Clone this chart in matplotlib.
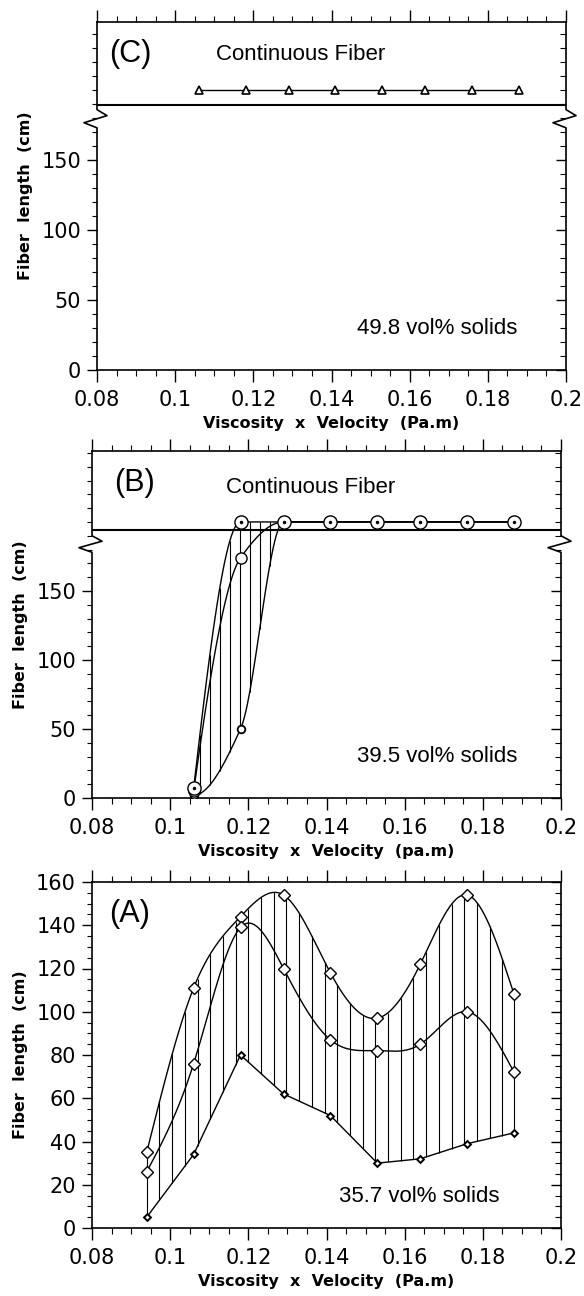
import numpy as np
import matplotlib
matplotlib.use("Agg")
import matplotlib.pyplot as plt
import matplotlib.transforms as mtransforms
from matplotlib.ticker import MultipleLocator

# ---------------------------
# DATA
# ---------------------------
X_TICKS = [0.08, 0.10, 0.12, 0.14, 0.16, 0.18, 0.20]
X_TICK_LABELS = ["0.08", "0.1", "0.12", "0.14", "0.16", "0.18", "0.2"]

# 200 cm is used as the "Continuous Fiber" level above the axis break
# (C) 49.8 vol% solids
C_X = [0.106, 0.118, 0.129, 0.141, 0.153, 0.164, 0.176, 0.188]
C_Y = [200, 200, 200, 200, 200, 200, 200, 200]

# (B) 39.5 vol% solids : max / mean / min fiber length
B_X = [0.106, 0.118, 0.129, 0.141, 0.153, 0.164, 0.176, 0.188]
B_MAX = [7, 200, 200, 200, 200, 200, 200, 200]
B_MID = [5, 174, 200, 200, 200, 200, 200, 200]
B_MIN = [2, 50, 200, 200, 200, 200, 200, 200]

# (A) 35.7 vol% solids : max / mean / min fiber length
A_X = [0.094, 0.106, 0.118, 0.129, 0.141, 0.153, 0.164, 0.176, 0.188]
A_MAX = [35, 111, 144, 154, 118, 97, 122, 154, 108]
A_MID = [26, 76, 139, 120, 87, 82, 85, 100, 72]
A_MIN = [5, 34, 80, 62, 52, 30, 32, 39, 44]

FIG_W, FIG_H = 584, 1296
TICK_FONT = "DejaVu Sans"
TEXT_FONT = "Liberation Sans"


def natural_spline(x, y, xs):
    x = np.asarray(x, float)
    y = np.asarray(y, float)
    n = len(x)
    h = np.diff(x)
    A = np.zeros((n, n))
    r = np.zeros(n)
    A[0, 0] = A[-1, -1] = 1
    for i in range(1, n - 1):
        A[i, i - 1] = h[i - 1]
        A[i, i] = 2 * (h[i - 1] + h[i])
        A[i, i + 1] = h[i]
        r[i] = 6 * ((y[i + 1] - y[i]) / h[i] - (y[i] - y[i - 1]) / h[i - 1])
    M = np.linalg.solve(A, r)
    k = np.clip(np.searchsorted(x, xs) - 1, 0, n - 2)
    t0 = x[k + 1] - xs
    t1 = xs - x[k]
    hk = h[k]
    return (M[k] * t0 ** 3 / (6 * hk) + M[k + 1] * t1 ** 3 / (6 * hk)
            + (y[k] / hk - M[k] * hk / 6) * t0
            + (y[k + 1] / hk - M[k + 1] * hk / 6) * t1)


def pchip(x, y, xs):
    x = np.asarray(x, float)
    y = np.asarray(y, float)
    n = len(x)
    h = np.diff(x)
    d = np.diff(y) / h
    m = np.zeros(n)
    for i in range(1, n - 1):
        if d[i - 1] * d[i] > 0:
            w1 = 2 * h[i] + h[i - 1]
            w2 = h[i] + 2 * h[i - 1]
            m[i] = (w1 + w2) / (w1 / d[i - 1] + w2 / d[i])
    m0 = ((2 * h[0] + h[1]) * d[0] - h[0] * d[1]) / (h[0] + h[1])
    if np.sign(m0) != np.sign(d[0]):
        m0 = 0
    elif np.sign(d[0]) != np.sign(d[1]) and abs(m0) > abs(3 * d[0]):
        m0 = 3 * d[0]
    m[0] = m0
    m[-1] = 0 if d[-1] == 0 else d[-1]
    k = np.clip(np.searchsorted(x, xs) - 1, 0, n - 2)
    t = (xs - x[k]) / h[k]
    h00 = 2 * t ** 3 - 3 * t ** 2 + 1
    h10 = t ** 3 - 2 * t ** 2 + t
    h01 = -2 * t ** 3 + 3 * t ** 2
    h11 = t ** 3 - t ** 2
    return h00 * y[k] + h10 * h[k] * m[k] + h01 * y[k + 1] + h11 * h[k] * m[k + 1]


def setup(ax, ymax, yticks, yminor):
    ax.set_xlim(0.08, 0.2)
    ax.set_ylim(0, ymax)
    ax.set_xticks(X_TICKS)
    ax.set_xticklabels(X_TICK_LABELS, fontfamily=TICK_FONT)
    ax.xaxis.set_minor_locator(MultipleLocator(0.005))
    ax.set_yticks(yticks)
    ax.set_yticklabels([str(v) for v in yticks], fontfamily=TICK_FONT)
    ax.yaxis.set_minor_locator(MultipleLocator(yminor))
    ax.tick_params(axis="x", which="both", direction="out", top=True,
                   bottom=True, labelsize=15, pad=6)
    ax.tick_params(axis="x", which="major", length=8.5, width=1)
    ax.tick_params(axis="x", which="minor", length=4, width=0.8)
    ax.tick_params(axis="y", which="both", direction="out", left=True,
                   right=False, labelsize=15, pad=4)
    ax.tick_params(axis="y", which="major", length=7.5, width=1)
    ax.tick_params(axis="y", which="minor", length=3.5, width=0.8)
    sec = ax.secondary_yaxis("right")
    sec.set_yticks(yticks)
    sec.yaxis.set_minor_locator(MultipleLocator(yminor))
    sec.tick_params(which="both", direction="in", labelright=False)
    sec.tick_params(which="major", length=7, width=1)
    sec.tick_params(which="minor", length=4, width=0.8)
    sec.spines["right"].set_visible(False)
    for s in ["top", "bottom", "left", "right"]:
        ax.spines[s].set_linewidth(1.2)
    ax.set_ylabel("Fiber  length  (cm)", fontsize=11.5, fontweight="bold",
                  labelpad=6)


def break_spines(ax, y_bot, y_top, ymax):
    # left/right spines with a zigzag axis break
    ax.spines["left"].set_visible(False)
    ax.spines["right"].set_visible(False)
    tr = mtransforms.blended_transform_factory(ax.transAxes, ax.transData)
    w_px = ax.get_position().width * FIG_W
    dx1 = 10 / w_px
    dx2 = 13 / w_px
    span = y_top - y_bot
    for x0 in (0, 1):
        xs = [x0, x0, x0 - dx2, x0 + dx1, x0, x0]
        ys = [0, y_bot, y_bot + 0.28 * span, y_bot + 0.67 * span, y_top, ymax]
        ax.plot(xs, ys, transform=tr, color="black", lw=1.2, clip_on=False,
                zorder=5)


fig = plt.figure(figsize=(FIG_W / 100, FIG_H / 100), dpi=100)

# ---------------------------
# (C) panel
# ---------------------------
axC = fig.add_axes([97 / FIG_W, 1 - 370 / FIG_H, 469 / FIG_W, 348 / FIG_H])
setup(axC, 248.6, [0, 50, 100, 150], 10)
break_spines(axC, 173, 186, 248.6)
axC.axhline(189, color="black", lw=1.5)
axC.plot(C_X, C_Y, color="black", lw=1, marker="^", ms=6, mfc="white",
         mec="black", mew=1.2)
axC.text(0.0886, 226, "(C)", fontsize=22, ha="center", va="center",
         family=TEXT_FONT)
axC.text(0.1105, 225.7, "Continuous Fiber", fontsize=16, va="center",
         family=TEXT_FONT)
axC.text(0.1465, 30, "49.8 vol% solids", fontsize=16, va="center",
         family=TEXT_FONT)
axC.set_xlabel("Viscosity  x  Velocity  (Pa.m)", fontsize=11.5,
               fontweight="bold", labelpad=4)

# ---------------------------
# (B) panel
# ---------------------------
axB = fig.add_axes([92 / FIG_W, 1 - 798 / FIG_H, 469 / FIG_W, 347 / FIG_H])
setup(axB, 251.4, [0, 50, 100, 150], 10)
break_spines(axB, 178, 190, 251.4)
axB.axhline(194, color="black", lw=1.5)

xs_b = np.linspace(B_X[0], B_X[-1], 400)
up_b = pchip(B_X, B_MAX, xs_b)
mid_b = pchip(B_X, B_MID, xs_b)
low_b = pchip(B_X, B_MIN, xs_b)
hx_b = np.arange(0.1076, 0.1285, 0.00255)
axB.vlines(hx_b, pchip(B_X, B_MIN, hx_b), pchip(B_X, B_MAX, hx_b),
           color="black", lw=0.8, zorder=1)
axB.plot(xs_b, up_b, color="black", lw=1, zorder=2)
axB.plot(xs_b, mid_b, color="black", lw=1, zorder=2)
axB.plot(xs_b, low_b, color="black", lw=1, zorder=2)
axB.plot(B_X, B_MIN, ls="none", marker="o", ms=5.5, mfc="white",
         mec="black", mew=1.3, zorder=3)
axB.plot(B_X, B_MID, ls="none", marker="o", ms=8, mfc="white",
         mec="black", mew=1, zorder=4)
axB.plot(B_X, B_MAX, ls="none", marker="o", ms=9.5, mfc="white",
         mec="black", mew=1, zorder=5)
axB.plot(B_X, B_MAX, ls="none", marker="o", ms=1.5, color="black", zorder=6)
axB.text(0.091, 228, "(B)", fontsize=22, ha="center", va="center",
         family=TEXT_FONT)
axB.text(0.1143, 224.6, "Continuous Fiber", fontsize=16, va="center",
         family=TEXT_FONT)
axB.text(0.1479, 30, "39.5 vol% solids", fontsize=16, va="center",
         family=TEXT_FONT)
axB.set_xlabel("Viscosity  x  Velocity  (pa.m)", fontsize=11.5,
               fontweight="bold", labelpad=4)

# ---------------------------
# (A) panel
# ---------------------------
axA = fig.add_axes([92 / FIG_W, 1 - 1228 / FIG_H, 469 / FIG_W, 346 / FIG_H])
setup(axA, 160, [0, 20, 40, 60, 80, 100, 120, 140, 160], 5)

xs_a = np.linspace(A_X[0], A_X[-1], 400)
hx_a = np.append(np.arange(A_X[0], A_X[-1], 0.00325), A_X[-1])
axA.vlines(hx_a, np.interp(hx_a, A_X, A_MIN), natural_spline(A_X, A_MAX, hx_a),
           color="black", lw=0.8, zorder=1)
axA.plot(xs_a, natural_spline(A_X, A_MAX, xs_a), color="black", lw=1, zorder=2)
axA.plot(xs_a, natural_spline(A_X, A_MID, xs_a), color="black", lw=1, zorder=2)
axA.plot(A_X, A_MIN, color="black", lw=1, zorder=2)
axA.plot(A_X, A_MAX, ls="none", marker="D", ms=6, mfc="white", mec="black",
         mew=1, zorder=3)
axA.plot(A_X, A_MID, ls="none", marker="D", ms=6, mfc="white", mec="black",
         mew=1, zorder=3)
axA.plot(A_X, A_MIN, ls="none", marker="D", ms=3.5, mfc="white", mec="black",
         mew=1.4, zorder=3)
axA.text(0.0897, 145, "(A)", fontsize=22, ha="center", va="center",
         family=TEXT_FONT)
axA.text(0.1432, 14.5, "35.7 vol% solids", fontsize=16, va="center",
         family=TEXT_FONT)
axA.set_xlabel("Viscosity  x  Velocity  (Pa.m)", fontsize=11.5,
               fontweight="bold", labelpad=4)

fig.savefig("out.png", dpi=100)
